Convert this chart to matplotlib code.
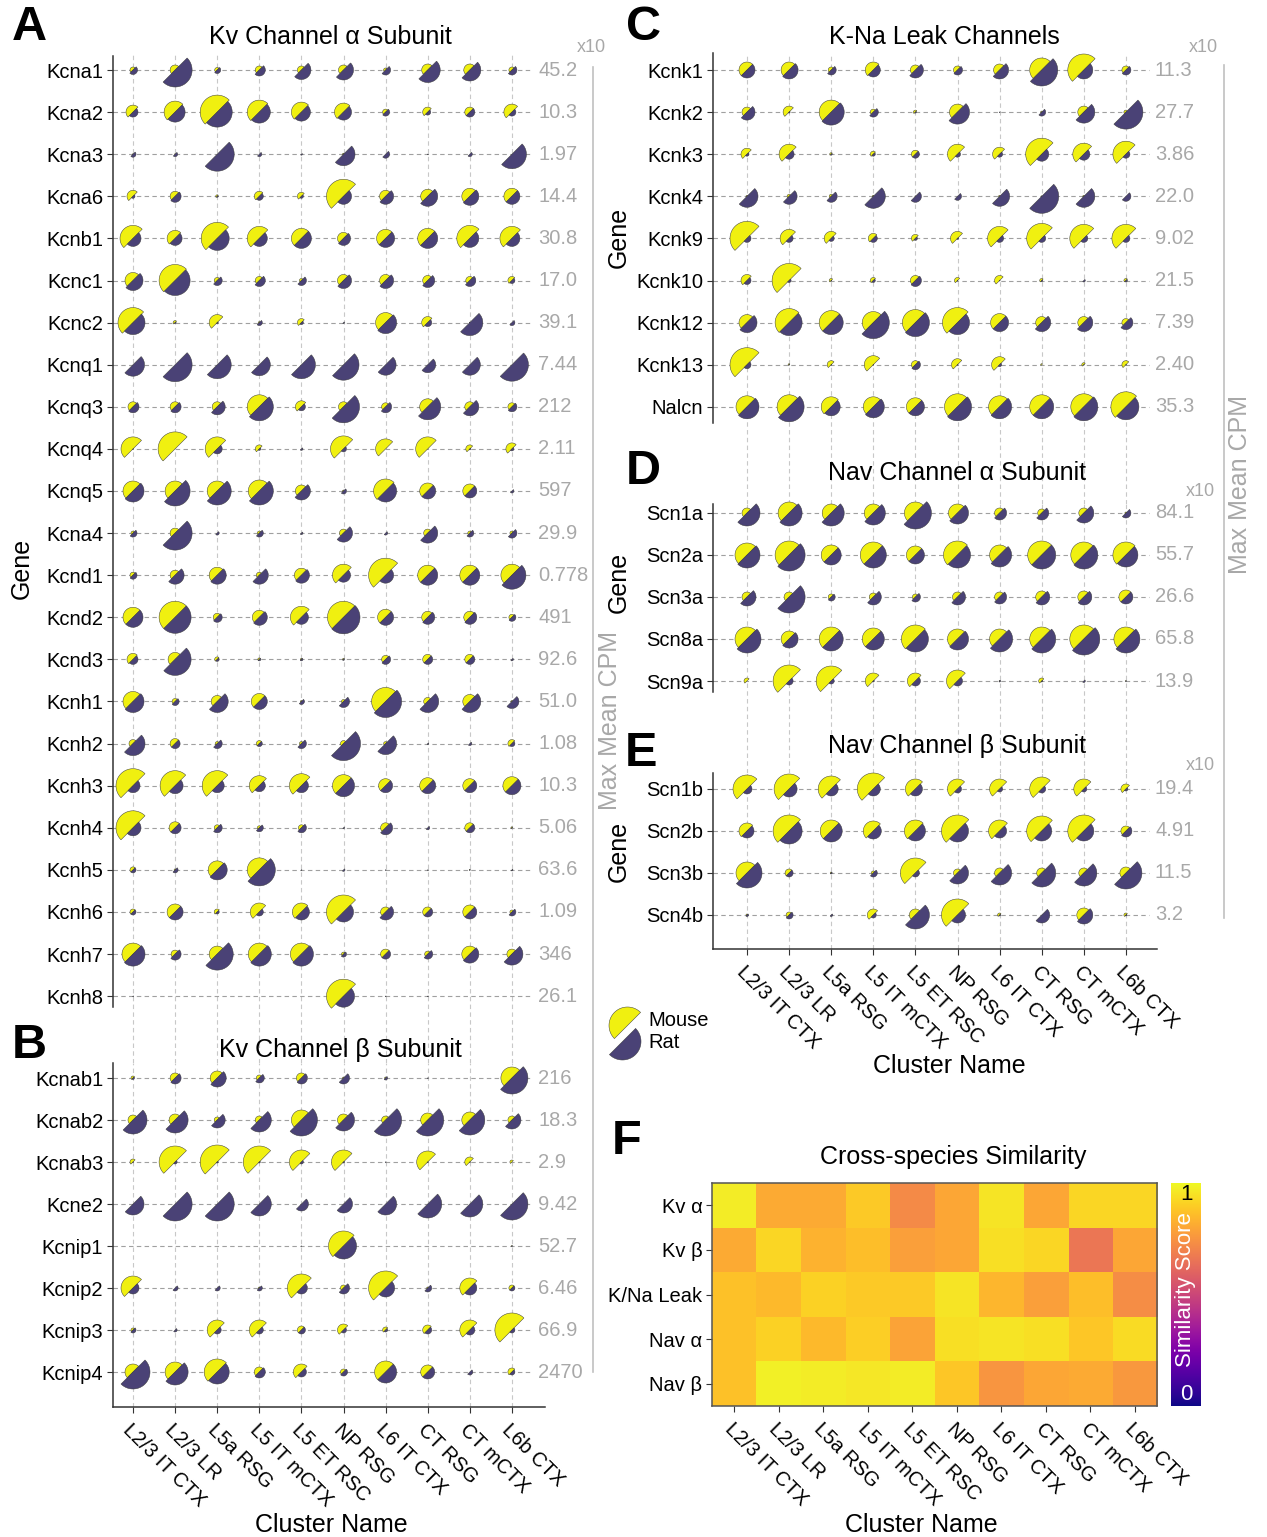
import numpy as np
import matplotlib
matplotlib.use("Agg")
import matplotlib.pyplot as plt
from matplotlib.path import Path
from matplotlib.markers import MarkerStyle
from matplotlib.lines import Line2D
from matplotlib.transforms import ScaledTranslation

plt.rcParams['font.family'] = ['Liberation Sans', 'DejaVu Sans']

W, H, DPI = 1267, 1537, 100

# ---------------------------
# data
# ---------------------------
clusters = ["L2/3 IT CTX", "L2/3 LR", "L5a RSG", "L5 IT mCTX", "L5 ET RSC",
            "NP RSG", "L6 IT CTX", "CT RSG", "CT mCTX", "L6b CTX"]

# relative expression per cluster (glyph radius, max ~17)
genes_a = ["Kcna1", "Kcna2", "Kcna3", "Kcna6", "Kcnb1", "Kcnc1", "Kcnc2", "Kcnq1",
           "Kcnq3", "Kcnq4", "Kcnq5", "Kcna4", "Kcnd1", "Kcnd2", "Kcnd3", "Kcnh1",
           "Kcnh2", "Kcnh3", "Kcnh4", "Kcnh5", "Kcnh6", "Kcnh7", "Kcnh8"]
maxcpm_a = ["45.2", "10.3", "1.97", "14.4", "30.8", "17.0", "39.1", "7.44", "212", "2.11",
            "597", "29.9", "0.778", "491", "92.6", "51.0", "1.08", "10.3", "5.06", "63.6",
            "1.09", "346", "26.1"]
mouse_a = [
    [3, 5, 2.5, 4, 4, 5, 2, 6, 6, 3],
    [7, 11, 17, 12, 10, 9, 3, 5, 5, 8],
    [0.5, 0.5, 0, 0, 0, 1, 0, 0, 0, 0],
    [6, 5, 1.5, 5, 4, 17, 6, 7, 8, 8],
    [13, 8, 16, 12, 10, 6, 9, 10, 13, 12],
    [8, 16, 3, 4, 2, 6, 6, 5, 4, 4],
    [15, 2, 8, 1, 4, 0, 10, 6, 0.5, 0],
    [0, 0, 0, 0, 0, 0, 0, 0, 0, 0],
    [5, 5, 5, 12, 6, 5, 4, 8, 5, 4],
    [12, 17, 12, 4, 0, 13, 10, 12, 4, 6],
    [10, 10, 10, 11, 6, 1, 12, 8, 7, 0],
    [2, 5, 0, 2, 0, 4, 0, 4, 2, 2],
    [3, 5, 8, 3, 7, 11, 17, 10, 10, 11],
    [10, 16, 4, 7, 11, 16, 8, 6, 6, 3],
    [6, 7, 2.5, 1.5, 1, 1, 4, 5, 5, 0],
    [10, 3, 6, 8, 1, 2, 14, 4, 7, 1],
    [4, 5, 2, 3, 2, 3, 2, 0, 0, 4],
    [17, 15, 15, 10, 12, 11, 7, 8, 7, 9],
    [17, 6, 3, 2, 3, 0, 5, 0, 5, 1],
    [3, 1, 9, 12, 0, 0, 0, 0, 0.5, 0],
    [3, 8, 3, 9, 9, 17, 5, 5, 7, 2],
    [11, 4, 8, 11, 11, 2, 5, 3, 8, 5],
    [0, 0, 0, 0, 0, 17, 0, 0, 0, 0],
]
rat_a = [
    [4.5, 17, 3.5, 6, 9.5, 10, 5, 12.5, 11, 5],
    [5, 10, 15, 11, 9, 8, 4, 3, 5, 4],
    [3, 2.5, 17, 2.5, 1, 11.5, 4, 0.5, 2.5, 14.5],
    [2, 6, 1, 4, 2, 8, 8, 10, 9, 8],
    [8, 7, 12, 8, 10, 7, 9, 10, 9, 8],
    [10, 15, 5, 6, 5, 8, 8, 7, 6, 3],
    [12, 1, 1, 3, 2, 1, 11, 4, 13, 3],
    [11.5, 17, 14, 11, 14, 15.5, 10.5, 8, 10.5, 16.5],
    [6, 6, 8, 14, 4, 16, 6, 13, 9, 5],
    [0.5, 0, 5, 1.5, 1.5, 3, 0, 0, 1, 2],
    [11, 15, 14, 14, 9, 3, 11, 8, 7, 2],
    [4, 17, 2, 4, 1.5, 9, 2, 10, 4, 5],
    [4, 9, 9, 9, 8, 7, 8, 10, 10, 14],
    [10, 16, 5, 8, 7, 16.5, 8, 7, 7, 4],
    [5, 16, 2, 1.5, 1.5, 1, 5, 5, 5, 1.5],
    [11, 4, 11, 8, 3, 6, 16, 11, 11, 7],
    [12, 5, 5, 3, 5, 17, 11, 1, 2, 3],
    [7, 8, 7, 6, 7, 11, 7, 8, 7, 9],
    [8, 6, 5, 4, 5, 1, 7, 2, 5, 0.5],
    [3, 3, 10, 16, 0.5, 1.5, 0.5, 0.5, 0.5, 1],
    [3, 8, 2, 4, 8, 10, 8, 5, 7, 4],
    [12, 6, 16, 12, 12, 3, 5, 5, 9, 11],
    [0.5, 0, 0, 0, 0, 11, 0.5, 0.5, 0, 0],
]

genes_b = ["Kcnab1", "Kcnab2", "Kcnab3", "Kcne2", "Kcnip1", "Kcnip2", "Kcnip3", "Kcnip4"]
maxcpm_b = ["216", "18.3", "2.9", "9.42", "52.7", "6.46", "66.9", "2470"]
mouse_b = [
    [2, 5, 7, 3, 5, 1, 1, 0, 0, 11],
    [5, 6, 3, 4, 10, 6, 4, 7, 8, 4],
    [3, 16, 17, 16, 12, 12, 0, 11, 5, 2],
    [0, 0, 0, 0, 0, 0, 0, 0, 0, 0],
    [0, 0, 0, 0, 0, 15, 0, 0, 0, 0.5],
    [12, 0, 0, 1, 14, 3, 17, 1, 10, 3],
    [2, 0, 10, 10, 4, 6, 3, 5, 10, 17],
    [8, 10, 13, 5, 8, 3, 11, 7, 0, 4],
]
rat_b = [
    [1.5, 6, 9, 5, 6, 6, 2, 0.5, 0, 16],
    [14, 13, 8, 12, 16, 11, 16, 16, 15, 9],
    [0.5, 2, 1, 1, 2, 1, 0.5, 0.5, 0.5, 0],
    [11, 17, 17, 12, 7, 9, 11, 14, 13, 16],
    [0, 0, 0, 0, 0.3, 13, 0, 0, 0, 0.5],
    [6, 3, 3, 3, 6, 6, 9, 4, 7, 3],
    [3, 2, 4, 4, 4, 3, 2, 4, 5, 3],
    [17, 13, 12, 6, 5, 4, 11, 7, 3, 3],
]

genes_c = ["Kcnk1", "Kcnk2", "Kcnk3", "Kcnk4", "Kcnk9", "Kcnk10", "Kcnk12", "Kcnk13", "Nalcn"]
maxcpm_c = ["11.3", "27.7", "3.86", "22.0", "9.02", "21.5", "7.39", "2.40", "35.3"]
mouse_c = [
    [8, 8, 3, 8, 5, 4, 6, 12, 16, 4],
    [5, 6, 12, 3, 2, 8, 0, 1, 6, 2],
    [6, 10, 1.5, 3, 4, 10, 7, 16, 11, 13],
    [1, 2, 2, 1, 0.5, 0, 1, 0.5, 1, 0],
    [17, 9, 7, 5, 4, 7, 12, 15, 14, 14],
    [6, 17, 2, 3, 5, 3, 5, 2, 0, 2],
    [8, 14, 12, 11, 13, 15, 9, 6, 6, 4],
    [17, 1, 4, 9, 4, 6, 8, 1, 2, 4],
    [11, 12, 10, 10, 9, 13, 11, 12, 13, 15],
]
rat_c = [
    [8, 9, 5, 7, 8, 5, 9, 16, 9, 5],
    [8, 1, 13, 5, 1, 12, 0.5, 4, 11, 17],
    [2, 5, 1, 2, 4, 3, 3, 7, 6, 4],
    [11, 8, 6, 12, 6, 4, 10, 17, 11, 5],
    [4, 4, 3, 4, 2, 1, 4, 4, 4, 4],
    [4, 2, 0.5, 2, 6, 0.5, 0.5, 1, 1.5, 1.5],
    [10, 13, 12, 16, 14, 12, 9, 9, 9, 7],
    [4, 0.5, 0.5, 0.5, 5, 0.5, 2, 0, 0.5, 0.5],
    [12, 15, 9, 11, 9, 14, 12, 12, 14, 13],
]

genes_d = ["Scn1a", "Scn2a", "Scn3a", "Scn8a", "Scn9a"]
maxcpm_d = ["84.1", "55.7", "26.6", "65.8", "13.9"]
mouse_d = [
    [5, 11, 9, 9, 11, 9, 5, 4, 5, 1],
    [12, 14, 10, 13, 9, 14, 10, 14, 13, 13],
    [5, 5, 3, 4, 3, 5, 5, 6, 6, 7],
    [12, 8, 12, 11, 14, 10, 10, 12, 14, 12],
    [3, 16, 15, 8, 8, 11, 0.5, 3, 0, 0.5],
]
rat_d = [
    [13, 13, 13, 12, 16, 11, 7, 7, 10, 5],
    [13, 16, 10, 13, 9, 13, 12, 14, 14, 12],
    [9, 16, 4, 8, 5, 8, 7, 8, 8, 7],
    [14, 9, 12, 11, 13, 11, 13, 14, 16, 14],
    [0, 4, 3, 1, 5, 5, 1, 1, 1.5, 0.5],
]

genes_e = ["Scn1b", "Scn2b", "Scn3b", "Scn4b"]
maxcpm_e = ["19.4", "4.91", "11.5", "3.2"]
mouse_e = [
    [14, 15, 13, 16, 10, 10, 10, 12, 10, 5],
    [8, 16, 11, 10, 11, 16, 11, 15, 16, 5],
    [11, 4, 1, 2, 15, 4, 5, 5, 5, 6],
    [1, 3, 0, 6, 6, 16, 2, 0, 7, 2],
]
rat_e = [
    [5, 8, 7, 7, 7, 4, 3, 4, 3, 2],
    [7, 13, 11, 8, 10, 11, 7, 10, 10, 6],
    [15, 4, 1, 4, 4, 11, 12, 14, 13, 16],
    [1.5, 4, 1.5, 3, 14, 8, 1, 8, 9, 1],
]

sim_rows = ["Kv α", "Kv β", "K/Na Leak", "Nav α", "Nav β"]
sim = [
    [0.97, 0.81, 0.81, 0.89, 0.72, 0.80, 0.95, 0.80, 0.92, 0.92],
    [0.81, 0.92, 0.83, 0.86, 0.78, 0.80, 0.94, 0.92, 0.66, 0.80],
    [0.87, 0.85, 0.91, 0.89, 0.89, 0.95, 0.84, 0.78, 0.86, 0.73],
    [0.87, 0.91, 0.85, 0.90, 0.79, 0.94, 0.95, 0.94, 0.88, 0.93],
    [0.87, 0.98, 0.97, 0.96, 0.97, 0.88, 0.75, 0.80, 0.81, 0.76],
]

# ---------------------------
# style
# ---------------------------
YEL = "#F0F010"
PUR = "#4A4276"
EDGE = "#3a3a3a"
GRAY_TXT = "#A8A8A8"
SPINE = "#333333"
DX = 42.1
FS_TICK = 14.5
FS_TITLE = 18


def half_disc(a0, a1):
    t = np.radians(np.linspace(a0, a1, 73))
    v = np.column_stack([np.cos(t), np.sin(t)])
    v = np.vstack([v, v[:1]])
    codes = [Path.MOVETO] + [Path.LINETO] * (len(t) - 1) + [Path.CLOSEPOLY]
    return MarkerStyle(Path(v, codes))


MOUSE_M = half_disc(45, 225)
RAT_M = half_disc(225, 405)


def msize(r_px):
    r_pt = np.asarray(r_px, dtype=float) * 72.0 / DPI
    return (2 * r_pt) ** 2


fig = plt.figure(figsize=(W / DPI, H / DPI), dpi=DPI)


def add_ax(left, top, right, bottom):
    return fig.add_axes([left / W, 1 - bottom / H, (right - left) / W, (bottom - top) / H])


def ftext(x, y, s, **kw):
    fig.text(x / W, 1 - y / H, s, **kw)


def rotate_xlabels(ax, dx_px=-15):
    ax.set_xticks(range(len(clusters)))
    ax.set_xticklabels(clusters, rotation=-45, ha="left", va="top",
                       rotation_mode="anchor", fontsize=FS_TICK)
    off = ScaledTranslation(dx_px / DPI, 0, fig.dpi_scale_trans)
    for lab in ax.get_xticklabels():
        lab.set_transform(lab.get_transform() + off)
    ax.tick_params(axis="x", length=4, width=0.8, color=SPINE, pad=6)


def dot_panel(box, col0, row0, dy, genes, mouse, rat, maxcpm, spine_px,
              grid_end, val_px, bottom_axis=False):
    left, top, right, bottom = box
    ax = add_ax(left, top, right, bottom)
    n = len(genes)
    ax.set_xlim((left - col0) / DX, (right - col0) / DX)
    ax.set_ylim((bottom - row0) / dy, (top - row0) / dy)
    for i in range(len(clusters)):
        ax.axvline(i, color="#C8C8C8", lw=0.8, ls=(0, (4, 3)), zorder=0)
    ax.hlines(range(n), (left - col0) / DX, (grid_end - col0) / DX,
              color="#A0A0A0", lw=0.8, ls=(0, (4, 3)), zorder=0)
    xx, yy = np.meshgrid(np.arange(len(clusters)), np.arange(n))
    m = np.array(mouse, dtype=float).ravel()
    r = np.array(rat, dtype=float).ravel()
    ax.scatter(xx.ravel(), yy.ravel(), s=msize(m), marker=MOUSE_M, facecolor=YEL,
               edgecolor=EDGE, linewidth=0.35, zorder=3, clip_on=False)
    ax.scatter(xx.ravel(), yy.ravel(), s=msize(r), marker=RAT_M, facecolor=PUR,
               edgecolor=EDGE, linewidth=0.35, zorder=3, clip_on=False)
    ax.set_yticks(range(n))
    ax.set_yticklabels(genes, fontsize=FS_TICK)
    ax.tick_params(axis="y", length=4, width=0.8, color=SPINE, pad=3)
    for i, v in enumerate(maxcpm):
        ax.text((val_px - col0) / DX, i, v, color=GRAY_TXT, fontsize=FS_TICK,
                ha="left", va="center")
    for s in ("top", "right"):
        ax.spines[s].set_visible(False)
    ax.spines["left"].set_color(SPINE)
    ax.spines["left"].set_linewidth(1.1)
    ax.spines["left"].set_bounds((spine_px[1] - row0) / dy, (spine_px[0] - row0) / dy)
    if bottom_axis:
        ax.spines["bottom"].set_color(SPINE)
        ax.spines["bottom"].set_linewidth(1.1)
        rotate_xlabels(ax)
    else:
        ax.spines["bottom"].set_visible(False)
        ax.set_xticks([])
    ax.patch.set_alpha(0)
    return ax


# ---------------------------
# panels A, B
# ---------------------------
dot_panel((113, 53, 545, 1063), 133, 70, 42.1, genes_a, mouse_a, rat_a, maxcpm_a,
          (56, 1007), 530, 538)
dot_panel((113, 1063, 545, 1407), 133, 1078, 42.0, genes_b, mouse_b, rat_b, maxcpm_b,
          (1063, 1407), 530, 538, bottom_axis=True)

# ---------------------------
# panels C, D, E
# ---------------------------
dot_panel((713, 53, 1157, 504), 747, 70, 42.1, genes_c, mouse_c, rat_c, maxcpm_c,
          (53, 423), 1149, 1155)
dot_panel((713, 504, 1157, 773), 747, 513, 42.0, genes_d, mouse_d, rat_d, maxcpm_d,
          (504, 692), 1149, 1155)
dot_panel((713, 773, 1157, 949), 747, 789, 42.0, genes_e, mouse_e, rat_e, maxcpm_e,
          (773, 949), 1149, 1155, bottom_axis=True)

# ---------------------------
# panel F heatmap + colour bar
# ---------------------------
axf = add_ax(712, 1183, 1157, 1406)
axf.imshow(np.array(sim), cmap="plasma", vmin=0, vmax=1, aspect="auto",
           interpolation="nearest")
axf.set_yticks(range(len(sim_rows)))
axf.set_yticklabels(sim_rows, fontsize=FS_TICK)
axf.tick_params(axis="y", length=4, width=0.8, color=SPINE, pad=3)
rotate_xlabels(axf)
for s in axf.spines.values():
    s.set_color("#555555")
    s.set_linewidth(1.1)

axc = add_ax(1171, 1183, 1201, 1406)
axc.imshow(np.linspace(1, 0, 256)[:, None], cmap="plasma", vmin=0, vmax=1,
           aspect="auto", extent=(0, 1, 0, 1))
axc.set_xticks([])
axc.set_yticks([])
for s in axc.spines.values():
    s.set_visible(False)
axc.text(0.5, 0.95, "1", color="black", fontsize=16, ha="center", va="center",
         transform=axc.transAxes)
axc.text(0.5, 0.05, "0", color="white", fontsize=16, ha="center", va="center",
         transform=axc.transAxes)
axc.text(0.5, 0.52, "Similarity Score", color="white", fontsize=16, rotation=90,
         ha="center", va="center", transform=axc.transAxes)

# ---------------------------
# text, titles, labels
# ---------------------------
TITLE = dict(fontsize=FS_TITLE, ha="center", va="center")
ftext(330, 37, "Kv Channel α Subunit", **TITLE)
ftext(340, 1050, "Kv Channel β Subunit", **TITLE)
ftext(944, 37, "K-Na Leak Channels", **TITLE)
ftext(957, 473, "Nav Channel α Subunit", **TITLE)
ftext(957, 746, "Nav Channel β Subunit", **TITLE)
ftext(953, 1157, "Cross-species Similarity", **TITLE)

LET = dict(fontsize=35, fontweight="bold", ha="center", va="center")
ftext(29, 28, "A", **LET)
ftext(29, 1046, "B", **LET)
ftext(643, 28, "C", **LET)
ftext(643, 471, "D", **LET)
ftext(641, 753, "E", **LET)
ftext(627, 1141, "F", **LET)

AX = dict(fontsize=FS_TITLE, ha="center", va="center")
ftext(22, 568, "Gene", rotation=90, **AX)
ftext(619, 237, "Gene", rotation=90, **AX)
ftext(619, 582, "Gene", rotation=90, **AX)
ftext(619, 851, "Gene", rotation=90, **AX)
ftext(331, 1525, "Cluster Name", **AX)
ftext(949, 1066, "Cluster Name", **AX)
ftext(921, 1525, "Cluster Name", **AX)

X10 = dict(fontsize=13, color=GRAY_TXT, ha="center", va="center")
ftext(591, 48, "x10", **X10)
ftext(1203, 48, "x10", **X10)
ftext(1200, 491, "x10", **X10)
ftext(1200, 766, "x10", **X10)

for x, y0, y1 in [(593, 67, 1372), (1224, 65, 918)]:
    fig.add_artist(Line2D([x / W, x / W], [1 - y0 / H, 1 - y1 / H],
                          transform=fig.transFigure, color="#C0C0C0", lw=1.2))
ftext(610, 720, "Max Mean CPM", rotation=90, fontsize=FS_TITLE, color=GRAY_TXT,
      ha="center", va="center")
ftext(1240, 484, "Max Mean CPM", rotation=90, fontsize=FS_TITLE, color=GRAY_TXT,
      ha="center", va="center")

# legend
axl = add_ax(600, 995, 720, 1070)
axl.set_xlim(600, 720)
axl.set_ylim(1070, 995)
axl.axis("off")
axl.scatter([627], [1025], s=msize([18.5]), marker=MOUSE_M, facecolor=YEL,
            edgecolor=EDGE, linewidth=0.35, clip_on=False)
axl.scatter([622], [1041], s=msize([18.5]), marker=RAT_M, facecolor=PUR,
            edgecolor=EDGE, linewidth=0.35, clip_on=False)
ftext(648, 1020, "Mouse", fontsize=FS_TICK, ha="left", va="center")
ftext(648, 1043, "Rat", fontsize=FS_TICK, ha="left", va="center")

fig.savefig("out.png", dpi=DPI)
